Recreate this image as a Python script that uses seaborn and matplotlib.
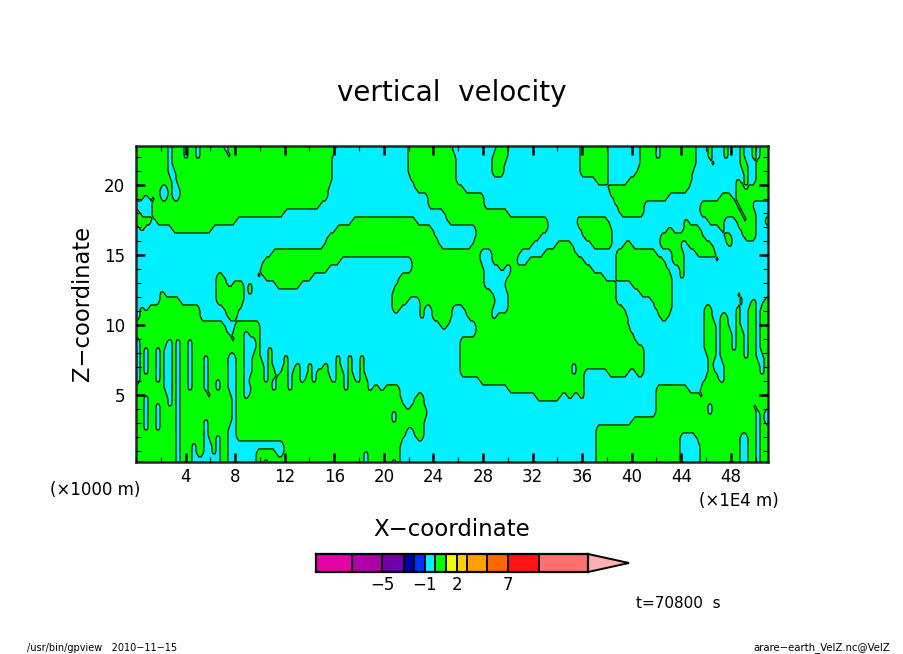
import numpy as np
import pandas as pd
import seaborn as sns
import matplotlib.pyplot as plt
from matplotlib.colors import ListedColormap
from matplotlib.patches import Polygon
from matplotlib.ticker import FixedLocator, MultipleLocator

# Sign of the vertical velocity, top row first.
# Each row starts positive and flips sign at the listed grid columns (158 columns).
sign_flips = [
    [8,9,12,13,15,16,22,23,50,68,79,90,93,111,118,126,130,131,140,143,144,147,148,151,152,154,155,156],
    [8,9,12,13,15,16,23,24,49,68,80,89,93,111,118,126,130,131,140,143,144,147,148,151,152,154,155,156],
    [8,9,49,68,80,89,92,111,118,126,140,144,145,151,153,155],
    [8,10,49,68,80,89,92,111,118,125,139,152,153,155],
    [9,10,49,69,80,115,118,123,139,150,151,152,153,155],
    [6,8,9,11,48,70,82,118,138,150,152,153],
    [2,3,4,5,6,8,9,11,48,73,87,119,133,146,149,150],
    [0,4,46,73,87,120,127,141,150,151,154],
    [1,4,37,77,93,107,108,121,127,141,151,152,155],
    [4,5,25,54,70,78,103,110,118,137,138,143,147,150,152,153,155,157],
    [0,1,2,9,19,50,74,85,103,111,119,133,134,137,141,146,147,151,155],
    [0,48,75,85,101,112,119,131,142,147,149,152,155],
    [0,47,76,84,99,105,109,114,119,122,124,131,136,138,144,148,149],
    [0,34,86,89,96,102,110,120,130,134,137,140,145],
    [0,32,51,69,86,89,95,98,112,120,132,134,137,145,146],
    [0,31,48,69,87,91,92,94,114,120,133,136,137],
    [0,20,22,30,31,32,44,66,87,93,117,120,134,136,137],
    [0,20,23,24,27,28,29,35,41,65,87,92,120,124,134],
    [0,6,7,20,27,28,29,64,89,93,120,126,134,150,151],
    [0,6,11,20,27,64,68,71,90,93,120,129,134,151,152,154,155,157],
    [0,1,2,3,16,22,26,64,66,71,72,74,79,82,89,93,122,130,134,142,144,150,151,153,155,156],
    [0,1,16,23,25,71,72,74,79,83,89,90,123,131,133,142,144,146,148,150,151,153,155,156],
    [22,25,31,76,78,85,123,142,145,146,148,150,151,153,155,156],
    [23,24,27,28,31,85,124,142,145,146,149,150,152,153,155,156],
    [0,1,8,9,10,11,13,14,24,25,27,30,31,81,125,138,139,142,145,146,149,150,152,153,155,156],
    [0,1,2,3,5,6,7,9,10,11,13,14,27,30,31,33,34,81,127,142,145,146,149,150,152,153,155,156],
    [0,1,2,3,5,6,7,9,10,11,13,14,17,18,23,25,27,29,31,33,34,37,38,50,51,53,54,56,57,81,127,143,145,146,152,153,155,157],
    [0,1,2,3,5,6,7,9,10,11,13,14,17,18,23,25,27,29,32,33,34,37,38,40,41,43,44,47,48,50,51,53,54,56,57,81,109,110,127,143,144,147,156,157],
    [0,1,2,3,5,6,7,9,10,11,13,14,17,18,23,25,27,29,32,33,35,36,38,39,41,43,44,45,48,50,52,53,54,56,57,81,109,110,112,118,123,125,127,143,145,147,156,157],
    [0,1,5,6,7,9,10,11,13,14,17,18,20,21,23,25,27,28,32,33,34,35,38,39,41,42,44,45,49,50,52,53,55,56,58,86,112,142,146,147],
    [7,9,10,11,13,14,17,18,20,21,23,25,27,29,34,35,38,39,52,53,58,59,61,62,66,93,112,130,138,141,151,152],
    [2,3,8,9,10,11,18,19,24,25,27,28,66,70,72,100,106,108,109,111,112,130,141,142],
    [2,3,5,6,8,9,10,11,24,25,67,69,72,130,143,144,154,155],
    [2,3,5,6,10,11,24,25,64,65,73,130,143,144,155,156,157],
    [2,3,5,6,10,11,17,18,24,25,64,65,72,124,155,156,157],
    [2,3,5,6,10,11,17,18,23,25,68,69,72,115,155,156],
    [10,11,17,18,20,21,23,25,67,70,72,115,136,140,151,153,155,156],
    [10,11,14,15,17,19,20,21,23,37,66,115,136,141,151,153,155,156],
    [10,11,14,15,17,19,20,21,23,30,35,37,57,58,66,115,136,141,151,153,155,156],
    [10,11,14,21,23,30,32,33,57,58,64,65,66,115,136,141,151,153,155,156],
]

# Colour bar
bar_colors = ['#e600a8', '#b000a8', '#7000a8', '#0000a8', '#0030ff', '#00f0ff', '#00ff00',
              '#f0ff00', '#ffd000', '#ffa000', '#ff6800', '#ff1414', '#ff7070']
bar_widths = [36, 30, 22, 10, 11, 10, 11, 11, 10, 20, 21, 31, 49]
bar_labels = ['\u22125', '\u22121', '2', '7']
bar_label_edges = [1, 4, 7, 10]

x_ticks = [4, 8, 12, 16, 20, 24, 28, 32, 36, 40, 44, 48]
z_ticks = [5, 10, 15, 20]

x_min, x_max = 0.0, 51.0
z_min, z_max = 0.214, 22.79
n_cols = 158
FIG_W, FIG_H = 904, 654


def decode(row):
    w = np.full(n_cols, 0.5)
    for c in row:
        w[c:] *= -1
    return w


def blur(a, n, axis):
    # running mean, just to take the stair steps out of the coarse reading
    pad = [(0, 0), (0, 0)]
    pad[axis] = (n // 2, n - 1 - n // 2)
    a = np.pad(a, pad, mode='edge')
    return np.apply_along_axis(lambda v: np.convolve(v, np.ones(n) / n, mode='valid'), axis, a)


w = np.array([decode(r) for r in sign_flips])
w = np.repeat(np.repeat(w, 4, axis=0), 2, axis=1)
w = blur(blur(w, 3, 1), 6, 0)

dx = (x_max - x_min) / n_cols / 2
xs = x_min + dx * (np.arange(w.shape[1]) + 0.5)
zs = z_max + 2 / 14.0 - (np.arange(w.shape[0]) + 0.5) * 2 / 14.0
xs = np.concatenate([[x_min], xs, [x_max]])
zs = np.concatenate([[zs[0] + 0.2], zs, [zs[-1] - 0.2]])
w = np.pad(w, 1, mode='edge')
field = pd.DataFrame(w, index=zs, columns=xs)

sns.set_theme(style='ticks', rc={'font.family': 'DejaVu Sans', 'text.color': 'black',
                                 'axes.labelcolor': 'black', 'xtick.color': 'black',
                                 'ytick.color': 'black', 'axes.axisbelow': False})

fig = plt.figure(figsize=(FIG_W / 100, FIG_H / 100), dpi=100)
ax = fig.add_axes([136 / FIG_W, 1 - 462 / FIG_H, 632 / FIG_W, 316 / FIG_H])

ax.contourf(field.columns, field.index, field.values, levels=[-1, 0, 1],
            colors=[bar_colors[5], bar_colors[6]])
ax.contour(field.columns, field.index, field.values, levels=[0], colors='black', linewidths=0.8)

ax.set_xlim(x_min, x_max)
ax.set_ylim(z_min, z_max)
ax.xaxis.set_major_locator(FixedLocator(x_ticks))
ax.xaxis.set_minor_locator(MultipleLocator(2))
ax.yaxis.set_major_locator(FixedLocator(z_ticks))
ax.yaxis.set_minor_locator(MultipleLocator(1))
ax.tick_params(which='major', direction='in', length=6.5, width=1.8, top=True, right=True,
               labelsize=12, pad=8)
ax.tick_params(which='minor', direction='in', length=3.5, width=0.8, top=True, right=True)
ax.tick_params(axis='x', which='major', pad=4)
for side in ax.spines.values():
    side.set_linewidth(1.8)


def label(px, py, s, size, **kw):
    fig.text(px / FIG_W, 1 - py / FIG_H, s, fontsize=size, ha='center', va='center', **kw)


label(452, 93, 'vertical  velocity', 20)
label(452, 529, 'X\u2212coordinate', 16.5)
label(83, 303, 'Z\u2212coordinate', 16.3, rotation=90)
label(95, 490, '(\u00d71000 m)', 12)
label(739, 501, '(\u00d71E4 m)', 12)
label(678, 603, 't=70800  s', 11)
label(102, 648, '/usr/bin/gpview   2010\u221211\u221215', 7)
label(822, 648, 'arare\u2212earth_VelZ.nc@VelZ', 7.3)

# colour bar: one heatmap cell per pixel of width
cells = np.repeat(np.arange(len(bar_colors)), bar_widths)[None, :]
total = sum(bar_widths)
cax = fig.add_axes([316 / FIG_W, 1 - 572 / FIG_H, total / FIG_W, 18 / FIG_H])
sns.heatmap(cells, ax=cax, cmap=ListedColormap(bar_colors), cbar=False,
            xticklabels=False, yticklabels=False)
edges = np.cumsum(bar_widths)
cax.vlines(edges[:-1], 0, 1, colors='black', linewidth=1.4)
cax.set_xticks([edges[c] for c in bar_label_edges])
cax.set_xticklabels(bar_labels, fontsize=12, rotation=0)
cax.tick_params(axis='x', length=0, pad=3)
cax.set_yticks([])
for side in cax.spines.values():
    side.set_visible(True)
    side.set_linewidth(1.6)
    side.set_color('black')

# over-range arrow, drawn on the bar's own scale
cax.add_patch(Polygon([[total, 0], [total + 41, 0.5], [total, 1]], closed=True, clip_on=False,
                      facecolor='#ffb0b0', edgecolor='black', linewidth=1.4))

fig.savefig('out.png', dpi=100)
